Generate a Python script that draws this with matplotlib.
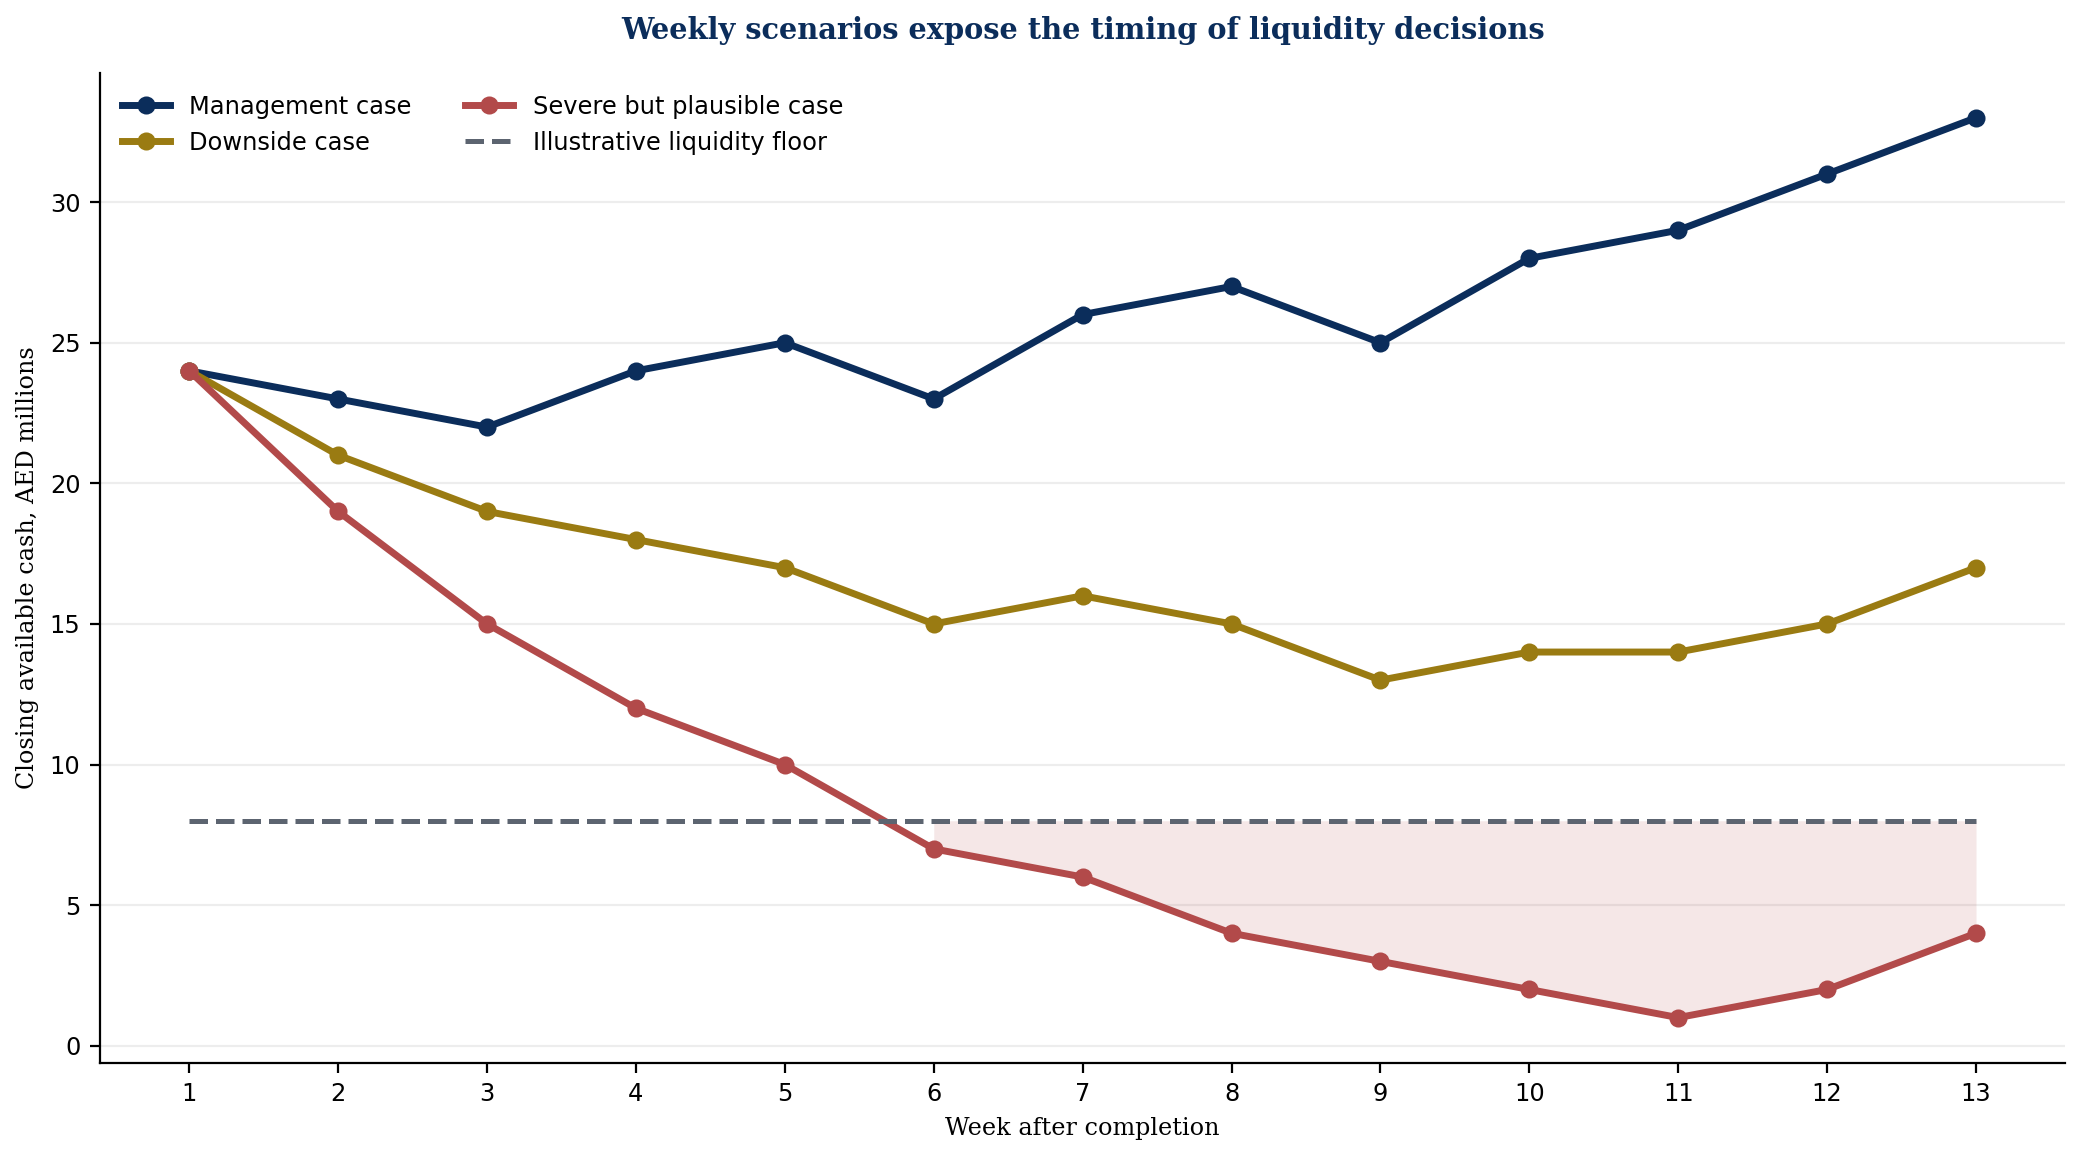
import numpy as np
import matplotlib.pyplot as plt

weeks = list(range(1, 14))
management = [24, 23, 22, 24, 25, 23, 26, 27, 25, 28, 29, 31, 33]
downside = [24, 21, 19, 18, 17, 15, 16, 15, 13, 14, 14, 15, 17]
severe = [24, 19, 15, 12, 10, 7, 6, 4, 3, 2, 1, 2, 4]
floor_level = 8

navy = "#0b2d5b"
gold = "#9a7b12"
red = "#b24a4a"
grey = "#5c6470"

fig, ax = plt.subplots(figsize=(10.41, 5.775), dpi=200)
fig.subplots_adjust(left=0.048, right=0.992, top=0.937, bottom=0.08)

ax.plot(weeks, management, color=navy, lw=2.5, marker="o", ms=5.5, label="Management case")
ax.plot(weeks, downside, color=gold, lw=2.5, marker="o", ms=5.5, label="Downside case")
ax.plot(weeks, severe, color=red, lw=2.5, marker="o", ms=5.5, label="Severe but plausible case")
floor = np.full(len(weeks), floor_level)
ax.plot(weeks, floor, color=grey, lw=1.8, ls="--", label="Illustrative liquidity floor")

sev = np.array(severe)
ax.fill_between(weeks, sev, floor, where=sev < floor, color=red, alpha=0.13, lw=0)

ax.set_xlim(0.4, 13.6)
ax.set_ylim(-0.6, 34.6)
ax.set_xticks(weeks)
ax.set_yticks([0, 5, 10, 15, 20, 25, 30])
ax.grid(axis="y", color="#ededed", lw=0.8)
ax.set_axisbelow(True)
for s in ["top", "right"]:
    ax.spines[s].set_visible(False)
ax.tick_params(labelsize=8.7)

ax.set_xlabel("Week after completion", family="DejaVu Serif", fontsize=8.6)
ax.set_ylabel("Closing available cash, AED millions", family="DejaVu Serif", fontsize=8.6)
ax.set_title("Weekly scenarios expose the timing of liquidity decisions",
             family="DejaVu Serif", fontweight="bold", color=navy, fontsize=10.4, pad=12)

ax.legend(loc="upper left", ncol=2, frameon=False, fontsize=8.7, columnspacing=2.2)

fig.savefig("out.png")
